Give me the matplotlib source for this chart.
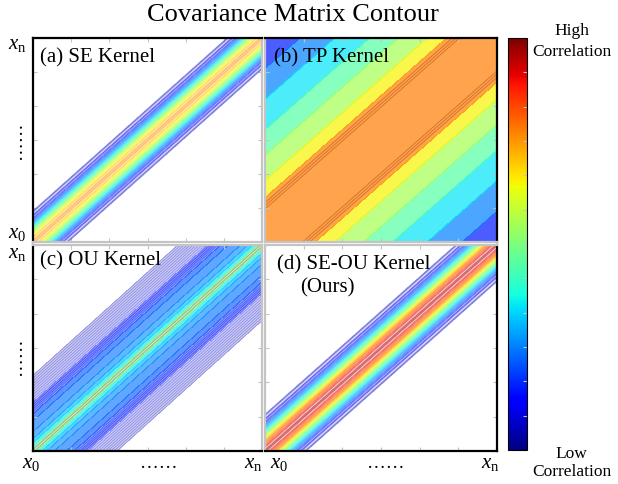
import numpy as np
import matplotlib.pyplot as plt
import matplotlib.tri as mtri
from matplotlib.colors import Normalize
from matplotlib.colorbar import ColorbarBase

plt.rcParams['font.family'] = ['Liberation Serif', 'DejaVu Serif']
plt.rcParams['mathtext.fontset'] = 'custom'
plt.rcParams['mathtext.rm'] = 'Liberation Serif'
plt.rcParams['mathtext.it'] = 'Liberation Serif:italic'

# correlation against |x_i - x_j|
# SE, OU and SE-OU: one value every 0.02 of the axis, zero beyond the band
lag_step = 0.02
se_corr = [0.77, 0.71, 0.62, 0.49, 0.35, 0.23, 0.13, 0.07, 0.03, 0.01]
ou_corr = [0.60, 0.38, 0.31, 0.28, 0.26, 0.245, 0.235, 0.225, 0.21, 0.19,
           0.165, 0.135, 0.115, 0.10, 0.085, 0.07, 0.055, 0.04, 0.025, 0.01]
seou_corr = [0.96, 0.90, 0.80, 0.66, 0.51, 0.37, 0.25, 0.15, 0.08, 0.04, 0.015]
# TP: one value every 0.05 of the axis, over the whole range
tp_lag_step = 0.05
tp_corr = [0.80, 0.80, 0.795, 0.785, 0.72, 0.66, 0.60, 0.56, 0.52, 0.48, 0.44,
           0.40, 0.37, 0.33, 0.30, 0.27, 0.23, 0.20, 0.18, 0.16, 0.14]

panel_titles = ["(a) SE Kernel", "(b) TP Kernel", "(c) OU Kernel", "(d) SE-OU Kernel"]
edge_labels = [r"$x_0$", "\u2026\u2026", r"$x_\mathrm{n}$"]


def build_matrix(profile, step):
    # covariance matrix from the correlation-vs-lag profile (stationary kernel),
    # returned on a triangulation split along the diagonal so the ridge stays straight
    n = int(round(1 / step)) + 1
    prof = np.zeros(n)
    prof[:len(profile)] = profile
    idx = np.abs(np.subtract.outer(np.arange(n), np.arange(n)))
    grid = np.linspace(0, 1, n)
    X, Y = np.meshgrid(grid, grid)
    r, c = np.meshgrid(np.arange(n - 1), np.arange(n - 1), indexing='ij')
    a = (r * n + c).ravel()
    b = a + 1
    d = a + n
    e = a + n + 1
    tris = np.concatenate([np.stack([a, b, e], 1), np.stack([a, e, d], 1)])
    tri = mtri.Triangulation(X.ravel(), Y.ravel(), tris)
    return tri, prof[idx].ravel()


norm = Normalize(0, 1)
grey = '#c4c4c4'

fig = plt.figure(figsize=(6.18, 4.84), dpi=100)

x0, xm, x1 = 0.0534, 0.4240, 0.4288
xr = 0.8042
yt, ym_hi, ym_lo, yb = 0.9215, 0.5000, 0.4940, 0.0682
ax_a = fig.add_axes([x0, ym_hi, xm - x0, yt - ym_hi])
ax_b = fig.add_axes([x1, ym_hi, xr - x1, yt - ym_hi])
ax_c = fig.add_axes([x0, yb, xm - x0, ym_lo - yb])
ax_d = fig.add_axes([x1, yb, xr - x1, ym_lo - yb])

# (a) SE kernel - contour lines only, pale fill
tri, z = build_matrix(se_corr, lag_step)
lv = np.arange(0.05, 0.76, 0.05)
ax_a.tricontourf(tri, z, levels=list(lv) + [0.8], cmap='jet', norm=norm, alpha=0.15)
ax_a.tricontour(tri, z, levels=lv, cmap='jet', norm=norm, alpha=0.4, linewidths=1.3)

# (b) TP kernel - broad filled bands
tri, z = build_matrix(tp_corr, tp_lag_step)
lv = [0.1, 0.2, 0.3, 0.4, 0.5, 0.6, 0.7, 0.85]
ax_b.tricontourf(tri, z, levels=lv, cmap='jet', norm=norm, alpha=0.7)
ax_b.tricontour(tri, z, levels=[0.73, 0.75, 0.77], colors='#c8601e', alpha=0.7, linewidths=0.7)

# (c) OU kernel - pale tails, stronger core
tri, z = build_matrix(ou_corr, lag_step)
ax_c.tricontourf(tri, z, levels=[0.02, 0.12], cmap='jet', norm=norm, alpha=0.2)
ax_c.tricontourf(tri, z, levels=[0.12, 0.19], cmap='jet', norm=norm, alpha=0.42)
ax_c.tricontourf(tri, z, levels=[0.19, 0.22, 0.25, 0.28, 0.31, 0.4, 0.65],
                 cmap='jet', norm=norm, alpha=0.62)
ax_c.tricontour(tri, z, levels=np.arange(0.02, 0.12, 0.01), cmap='jet', norm=norm,
                alpha=0.3, linewidths=0.6)
ax_c.tricontour(tri, z, levels=np.arange(0.13, 0.19, 0.015), cmap='jet', norm=norm,
                alpha=0.5, linewidths=0.7)
ax_c.tricontour(tri, z, levels=[0.52], colors='#8a6aa8', alpha=0.55, linewidths=0.8)

# (d) SE-OU kernel - contour lines only, pale fill
tri, z = build_matrix(seou_corr, lag_step)
lv = np.arange(0.05, 0.96, 0.05)
ax_d.tricontourf(tri, z, levels=list(lv) + [1.0], cmap='jet', norm=norm, alpha=0.15)
ax_d.tricontour(tri, z, levels=lv, cmap='jet', norm=norm, alpha=0.4, linewidths=1.3)

# frames: black outside, grey in between
outer = {ax_a: ['left', 'top'], ax_b: ['top', 'right'],
         ax_c: ['left', 'bottom'], ax_d: ['bottom', 'right']}
for ax, sides in outer.items():
    ax.set_xlim(0, 1)
    ax.set_ylim(0, 1)
    ax.set_xticks(np.linspace(0, 1, 7))
    ax.set_yticks(np.linspace(0, 1, 7))
    ax.tick_params(direction='in', length=3, color=grey, labelbottom=False,
                   labelleft=False, top=True, right=True)
    for s in ['left', 'right', 'top', 'bottom']:
        ax.spines[s].set_linewidth(1.6)
        ax.spines[s].set_color('black' if s in sides else grey)

ax_a.text(0.03, 0.905, panel_titles[0], transform=ax_a.transAxes, fontsize=15, va='center')
ax_b.text(0.04, 0.905, panel_titles[1], transform=ax_b.transAxes, fontsize=15, va='center')
ax_c.text(0.03, 0.925, panel_titles[2], transform=ax_c.transAxes, fontsize=15, va='center')
ax_d.text(0.05, 0.905, panel_titles[3], transform=ax_d.transAxes, fontsize=15, va='center')
ax_d.text(0.27, 0.79, "(Ours)", transform=ax_d.transAxes, fontsize=15, va='center', ha='center')

# edge labels on the left
ax_a.text(-0.03, 0.97, edge_labels[2], transform=ax_a.transAxes, fontsize=15, ha='right', va='center')
ax_a.text(-0.07, 0.5, edge_labels[1], transform=ax_a.transAxes, fontsize=13.5, ha='center',
          va='center', rotation=90)
ax_a.text(-0.03, 0.04, edge_labels[0], transform=ax_a.transAxes, fontsize=15, ha='right', va='center')
ax_c.text(-0.03, 0.96, edge_labels[2], transform=ax_c.transAxes, fontsize=15, ha='right', va='center')
ax_c.text(-0.07, 0.46, edge_labels[1], transform=ax_c.transAxes, fontsize=13.5, ha='center',
          va='center', rotation=90)

# edge labels along the bottom
for ax, xs in [(ax_c, [-0.01, 0.55, 0.96]), (ax_d, [0.06, 0.52, 0.97])]:
    for xv, lab in zip(xs, edge_labels):
        ax.text(xv, -0.06, lab, transform=ax.transAxes, fontsize=15 if lab.startswith('$') else 13.5,
                ha='center', va='center')

fig.text(0.474, 0.968, "Covariance Matrix Contour", fontsize=19, ha='center', va='center')

# colour bar
cax = fig.add_axes([0.822, 0.0702, 0.031, 0.851])
cb = ColorbarBase(cax, cmap='jet', norm=norm)
cb.set_ticks(np.linspace(0, 1, 13)[1:-1])
cax.tick_params(direction='in', length=3, color=grey, labelright=False)
cb.outline.set_linewidth(0.8)

fig.text(0.925, 0.935, "High", fontsize=12.5, ha='center', va='center')
fig.text(0.925, 0.893, "Correlation", fontsize=12.5, ha='center', va='center')
fig.text(0.925, 0.062, "Low", fontsize=12.5, ha='center', va='center')
fig.text(0.925, 0.025, "Correlation", fontsize=12.5, ha='center', va='center')

fig.savefig("out.png", dpi=100)
